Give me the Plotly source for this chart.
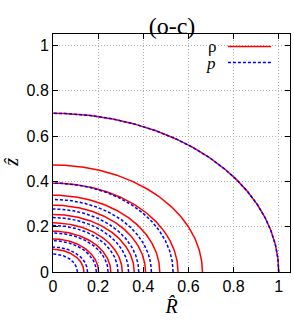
import numpy as np
import plotly.graph_objects as go

# Contour semi-axes (R-intercept, z-intercept)
rho_R = [1.0, 0.662, 0.554, 0.473, 0.410, 0.360, 0.307, 0.256, 0.202, 0.137]
rho_z = [0.70, 0.472, 0.392, 0.339, 0.295, 0.254, 0.217, 0.180, 0.146, 0.100]
p_R = [1.0, 0.532, 0.436, 0.380, 0.335, 0.288, 0.244, 0.192, 0.153, 0.108]
p_z = [0.70, 0.392, 0.320, 0.278, 0.240, 0.205, 0.172, 0.138, 0.110, 0.079]

x_ticks = [0, 0.2, 0.4, 0.6, 0.8, 1]
x_ticklabels = ["0", "0.2", "0.4", "0.6", "0.8", "1"]
y_ticks = [0, 0.2, 0.4, 0.6, 0.8, 1]
y_ticklabels = ["0", "0.2", "0.4", "0.6", "0.8", "1"]

theta = np.linspace(0, np.pi / 2, 200)

fig = go.Figure()
for a, b in zip(rho_R, rho_z):
    fig.add_trace(go.Scatter(x=a * np.cos(theta), y=b * np.sin(theta), mode="lines",
                             line=dict(color="#ff0000", width=1.5), name="ρ",
                             showlegend=False, hoverinfo="skip"))
for a, b in zip(p_R, p_z):
    fig.add_trace(go.Scatter(x=a * np.cos(theta), y=b * np.sin(theta), mode="lines",
                             line=dict(color="#0000ff", width=1.5, dash="3px,2px"), name="p",
                             showlegend=False, hoverinfo="skip"))

axis_common = dict(
    automargin=False,
    showgrid=True, gridcolor="#b0b0b0", griddash="1px,2px", gridwidth=1,
    zeroline=True, zerolinecolor="black", zerolinewidth=2,
    showline=True, linecolor="black", linewidth=1, mirror="allticks",
    ticks="inside", ticklen=5, tickcolor="black", tickwidth=1,
    tickfont=dict(family="Liberation Sans", size=16, color="black"),
)

fig.update_xaxes(range=[0, 1.05], tickvals=x_ticks, ticktext=x_ticklabels,
                 title=dict(text="<i>R̂</i>", font=dict(family="Liberation Serif", size=20, color="black"),
                            standoff=2),
                 **axis_common)
fig.update_yaxes(range=[0, 1.05], tickvals=y_ticks, ticktext=y_ticklabels, title=None,
                 **axis_common)

# rotated z-hat label placed like the reference
fig.add_annotation(x=-0.18, y=0.46, xref="paper", yref="paper", text="<i>ẑ</i>", showarrow=False,
                   textangle=-90, xanchor="center", yanchor="middle",
                   font=dict(family="Liberation Serif", size=20, color="black"))

# gnuplot-style key: label then sample line
fig.add_annotation(x=0.69, y=0.947, xref="paper", yref="paper", text="ρ", showarrow=False,
                   xanchor="right", yanchor="middle", borderpad=0,
                   font=dict(family="Liberation Serif", size=17, color="black"))
fig.add_annotation(x=0.69, y=0.877, xref="paper", yref="paper", text="<i>p</i>", showarrow=False,
                   xanchor="right", yanchor="middle", borderpad=0,
                   font=dict(family="Liberation Serif", size=17, color="black"))
fig.add_shape(type="line", xref="paper", yref="paper", x0=0.738, x1=0.92, y0=0.947, y1=0.947,
              line=dict(color="#ff0000", width=1.5))
fig.add_shape(type="line", xref="paper", yref="paper", x0=0.738, x1=0.92, y0=0.88, y1=0.88,
              line=dict(color="#0000ff", width=1.5, dash="3px,2px"))

fig.update_layout(
    width=294, height=324,
    margin=dict(l=53, r=4, t=34, b=52),
    paper_bgcolor="white", plot_bgcolor="white",
    title=dict(text="(o-c)", x=0.585, xanchor="center", y=0.922, yanchor="middle",
               font=dict(family="Liberation Serif", size=24, color="black")),
    showlegend=False,
)

fig.write_html("out.html", config={"displayModeBar": False},
               post_script="document.body.style.margin='0';")
